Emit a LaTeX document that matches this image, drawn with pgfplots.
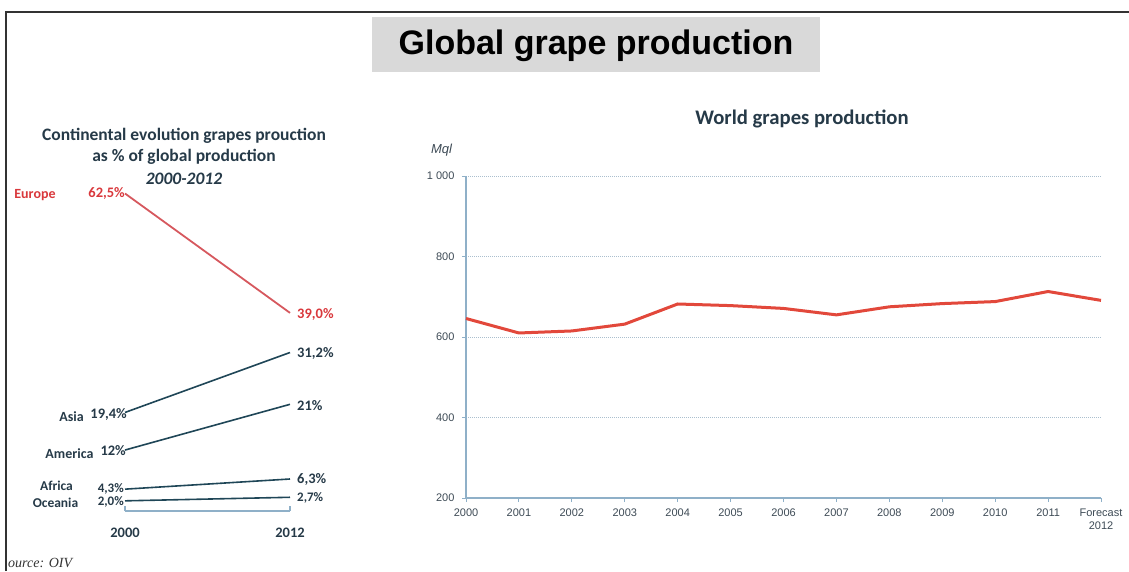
\documentclass[border=0pt]{standalone}
\usepackage{fontspec}
\usepackage{pgfplots}
\pgfplotsset{compat=1.18}
\setmainfont{Carlito}
\newfontfamily\arialf{Liberation Sans}
\newfontfamily\seriff{Liberation Serif}
\definecolor{txt}{HTML}{263A48}
\definecolor{eured}{HTML}{D9383C}
\definecolor{euline}{HTML}{D6585E}
\definecolor{tealc}{HTML}{1F4657}
\definecolor{axblue}{HTML}{8FB0C8}
\definecolor{gridc}{HTML}{ABBFCE}
\definecolor{linered}{HTML}{E2483B}
\definecolor{boxgray}{HTML}{D9D9D9}
\definecolor{ticktxt}{HTML}{3D4A55}

\begin{document}
\begin{tikzpicture}
\path[use as bounding box] (0pt,0pt) rectangle (1129pt,571pt);
% frame
\draw[line width=2pt, black!80] (6pt,0pt) -- (6pt,559pt) -- (1129pt,559pt);
% main title
\fill[boxgray] (372pt,499pt) rectangle (820pt,554pt);
\node[anchor=base, inner sep=0pt, font=\arialf\bfseries\fontsize{34}{40}\selectfont] at (596pt,516pt) {Global grape production};
% left title
\node[anchor=base, inner sep=0pt, text=txt, font=\bfseries\fontsize{17.5}{20}\selectfont] at (184pt,430.3pt) {Continental evolution grapes prouction};
\node[anchor=base, inner sep=0pt, text=txt, font=\bfseries\fontsize{17.5}{20}\selectfont] at (184pt,409.3pt) {as \% of global production};
\node[anchor=base, inner sep=0pt, text=txt, font=\bfseries\itshape\fontsize{17.5}{20}\selectfont] at (184pt,386pt) {2000-2012};
% right title
\node[anchor=base, inner sep=0pt, text=txt, font=\bfseries\fontsize{20.7}{24}\selectfont] at (802pt,446.5pt) {World grapes production};

% ---------- left slope chart ----------
\begin{axis}[
  at={(125pt,60pt)}, anchor=south west, scale only axis,
  width=165pt, height=330.2pt,
  xmin=2000, xmax=2012, ymin=0, ymax=65,
  hide y axis, axis x line*=bottom,
  x axis line style={-, draw=axblue, line width=1.2pt},
  xtick={2000,2012}, xticklabels={2000,2012},
  xtick align=inside, major tick length=5pt,
  xtick style={draw=axblue, line width=1.2pt},
  xticklabel style={font=\bfseries\fontsize{14.5}{17}\selectfont, text=txt, anchor=base, yshift=-26pt},
  clip=false]
\addplot[euline, line width=1.8pt, mark=none] coordinates {(2000,62.5) (2012,39.0)};
\addplot[tealc, line width=1.6pt, mark=none] coordinates {(2000,19.4) (2012,31.2)};
\addplot[tealc, line width=1.6pt, mark=none] coordinates {(2000,12.0) (2012,21.0)};
\addplot[tealc, line width=1.6pt, mark=none] coordinates {(2000,4.3) (2012,6.3)};
\addplot[tealc, line width=1.6pt, mark=none] coordinates {(2000,2.0) (2012,2.7)};
\begin{scope}[every node/.style={font=\bfseries\fontsize{14.5}{16}\selectfont, inner sep=0pt}]
\node[anchor=east, text=eured] at (axis cs:2000,62.5) {62,5\%};
\node[anchor=west, text=eured, xshift=7pt, yshift=-2pt] at (axis cs:2012,39.0) {39,0\%};
\node[anchor=east, text=txt, xshift=2pt, yshift=-2pt] at (axis cs:2000,19.4) {19,4\%};
\node[anchor=west, text=txt, xshift=7pt, yshift=-1pt] at (axis cs:2012,31.2) {31,2\%};
\node[anchor=east, text=txt, xshift=1pt, yshift=-1pt] at (axis cs:2000,12.0) {12\%};
\node[anchor=west, text=txt, xshift=7pt, yshift=-1pt] at (axis cs:2012,21.0) {21\%};
\node[anchor=west, text=txt, xshift=7pt, yshift=0pt] at (axis cs:2012,6.3) {6,3\%};
\end{scope}
\begin{scope}[every node/.style={font=\bfseries\fontsize{13}{14}\selectfont, inner sep=0pt}]
\node[anchor=east, text=txt, xshift=-1pt, yshift=0pt] at (axis cs:2000,4.3) {4,3\%};
\node[anchor=east, text=txt, xshift=-1pt, yshift=-1.5pt] at (axis cs:2000,2.0) {2,0\%};
\node[anchor=west, text=txt, xshift=7pt, yshift=-0.5pt] at (axis cs:2012,2.7) {2,7\%};
\end{scope}
\end{axis}

% names of continents
\begin{scope}[every node/.style={font=\bfseries\fontsize{14}{16}\selectfont, inner sep=0pt, anchor=base}]
\node[text=eured] at (35pt,372pt) {Europe};
\node[text=txt] at (71.5pt,150pt) {Asia};
\node[text=txt] at (69.5pt,113pt) {America};
\end{scope}
\begin{scope}[every node/.style={font=\bfseries\fontsize{13.5}{14}\selectfont, inner sep=0pt, anchor=base}]
\node[text=txt] at (56.5pt,81pt) {Africa};
\node[text=txt] at (55.5pt,64pt) {Oceania};
\end{scope}

% ---------- right line chart ----------
\begin{axis}[
  at={(466pt,73pt)}, anchor=south west, scale only axis,
  width=635pt, height=322pt,
  xmin=0, xmax=12, ymin=200, ymax=1000,
  axis lines=left,
  axis line style={-, draw=axblue, line width=1.2pt},
  xtick={0,1,2,3,4,5,6,7,8,9,10,11,12},
  xticklabels={2000,2001,2002,2003,2004,2005,2006,2007,2008,2009,2010,2011,{Forecast\\2012}},
  ytick={200,400,600,800,1000},
  yticklabels={200,400,600,800,{1\ 000}},
  tick align=outside, major tick length=4pt,
  tick style={draw=axblue, line width=1pt},
  ymajorgrids,
  grid style={gridc, line width=1pt, dash pattern=on 1pt off 1pt},
  xticklabel style={font=\arialf\fontsize{11}{13}\selectfont, text=ticktxt, align=center, yshift=-3pt},
  yticklabel style={font=\arialf\fontsize{11}{13}\selectfont, text=ticktxt, xshift=-4pt},
  clip=false]
\addplot[linered, line width=3pt, mark=none] coordinates {
  (0,646) (1,610) (2,615) (3,632) (4,682) (5,678) (6,671)
  (7,655) (8,675) (9,683) (10,688) (11,713) (12,691)};
\end{axis}
\node[font=\arialf\itshape\fontsize{13}{15}\selectfont, text=ticktxt] at (441.5pt,421pt) {Mql};

% source
\node[anchor=base west, inner sep=0pt, font=\seriff\itshape\fontsize{14}{16}\selectfont, text=black!80] at (8pt,4pt) {ource: OIV};
\end{tikzpicture}
\end{document}
